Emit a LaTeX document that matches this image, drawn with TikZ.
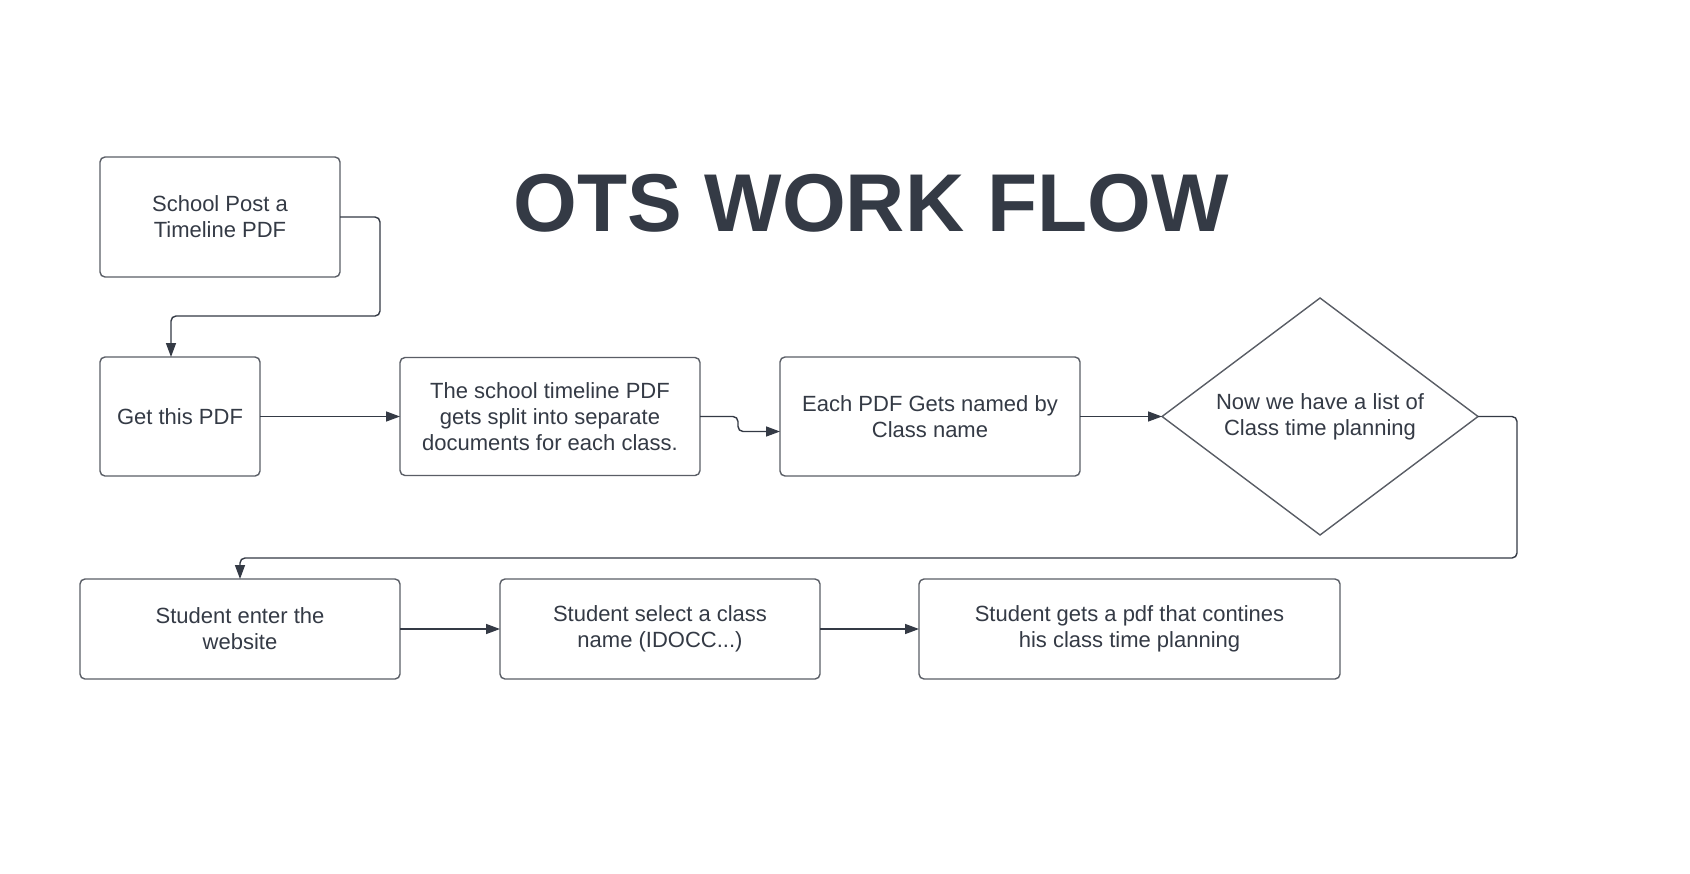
\documentclass[tikz,border=0pt]{standalone}
\usepackage{fontspec}
\setmainfont{Liberation Sans}
\usetikzlibrary{arrows.meta,positioning,shapes.geometric}
\definecolor{ink}{HTML}{343A45}
\definecolor{edge}{HTML}{5A5E66}

\begin{document}
\begin{tikzpicture}[
  box/.style={draw=edge,line width=0.7pt,rounded corners=2.5pt,align=center,text=ink,font=\fontsize{11}{13}\selectfont,inner sep=0pt,outer sep=0pt},
  decision/.style={diamond,draw=edge,line width=0.7pt,align=center,text=ink,font=\fontsize{11}{13}\selectfont,inner sep=0pt,outer sep=0pt,shape aspect=1.33,minimum width=158pt,minimum height=118.5pt},
  flow/.style={-{Triangle[length=7pt,width=5pt]},draw=ink,line width=0.7pt,rounded corners=2.5pt}
]
\fill[white] (0,0) rectangle (845pt,-436.5pt);
\useasboundingbox (0,0) rectangle (845pt,-436.5pt);
\node[font=\fontsize{41}{49}\selectfont\bfseries,text=ink] (title) at (435.5pt,-101.75pt) {OTS WORK FLOW};
\node[box,minimum width=120pt,minimum height=60pt] (post) at (110pt,-108.5pt) {School Post a\\Timeline PDF};
\node[box,minimum width=80pt,minimum height=59.5pt,below=40pt of post.south west,anchor=north west] (get) {Get this PDF};
\node[box,minimum width=150pt,minimum height=59pt,right=70pt of get] (split) {The school timeline PDF\\gets split into separate\\documents for each class.};
\node[box,minimum width=150pt,minimum height=59.5pt,right=40pt of split] (named) {Each PDF Gets named by\\Class name};
\node[decision,right=41pt of named] (list) {Now we have a list of\\Class time planning};
\node[box,minimum width=160pt,minimum height=50pt] (enter) at (120pt,-314.5pt) {Student enter the\\website};
\node[box,minimum width=160pt,minimum height=50pt,right=50pt of enter] (select) {Student select a class\\name (IDOCC...)};
\node[box,minimum width=210.5pt,minimum height=50pt,right=49.5pt of select] (gets) {Student gets a pdf that contines\\his class time planning};
\draw[flow] (post.east) -- ++(20pt,0) -- ++(0,-49.5pt) -| ([xshift=-4.5pt]get.north);
\draw[flow] (get) -- (split);
\draw[flow] (split.east) -- ++(19pt,0) |- ([yshift=-7.5pt]named.west);
\draw[flow] (named) -- (list);
\draw[flow] (list.east) -- ++(19.5pt,0) |- ([yshift=10.5pt]enter.north) -- (enter.north);
\draw[flow] (enter) -- (select);
\draw[flow] (select) -- (gets);
\end{tikzpicture}
\end{document}
